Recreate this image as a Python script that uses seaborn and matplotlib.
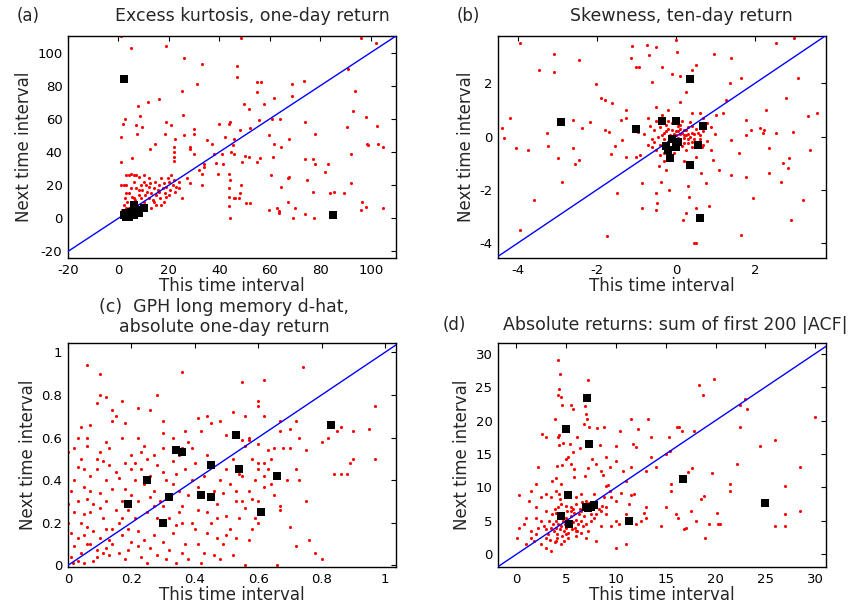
import pandas as pd
import matplotlib.pyplot as plt
import seaborn as sns

sns.set_style('white')
plt.rcParams['font.family'] = ['DejaVu Sans']
plt.rcParams['axes.unicode_minus'] = False

# (a) excess kurtosis, one-day return: (this interval, next interval)
kurt_red = [
    (1, 110), (5, 103), (19, 104), (48.6, 109), (96, 109), (102, 106), (26, 97), (33, 93),
    (47, 92), (47, 85), (31, 81), (25, 77), (16, 72), (11.6, 70), (7.7, 68), (8.6, 62),
    (2.6, 60), (1.7, 57), (7, 56), (9.3, 55), (1, 49), (7.5, 51), (1, 34), (5.3, 36.5),
    (19, 58), (21, 56), (18.5, 50.6), (22.5, 47.6), (25.6, 62.6), (26, 50), (28.5, 43),
    (29.8, 50.6), (29.8, 54), (28.5, 42), (30, 39), (14.6, 44.6), (12.6, 42), (21.9, 43),
    (21.9, 40), (22, 37), (22, 34.5), (27, 24), (28.5, 21.5), (33, 20), (33.8, 33), (35, 47),
    (37, 44.6), (37.7, 38.5), (41, 39), (38.8, 33.5), (32, 29), (33, 27), (34, 31), (40, 56.6),
    (43.7, 57), (44.4, 58), (42.4, 49), (45.7, 47.6), (48, 53), (41.5, 32.5), (43.7, 27),
    (44.4, 23), (39.3, 26.7), (44, 18), (44, 13), (45.4, 44), (44.6, 40), (45.7, 38.7),
    (43.7, 7.4), (44.4, 0), (45.7, 12), (48, 15), (46, 12.4), (47.7, 12), (48.4, 20), (49, 34),
    (50, 37.5), (49.7, 68.7), (51.7, 66), (52.3, 54.6), (50.6, 9), (52, 9), (51.6, 37),
    (55, 82), (55, 76), (55.6, 59), (56, 36.5), (55, 34), (56.3, 82), (61.6, 72.7), (57.6, 69),
    (60.9, 60), (61.6, 44.6), (61.3, 37), (60.3, 26), (59.6, 50), (59.6, 5), (63, 6),
    (63.6, 4.6), (64.5, 19), (64.5, 43), (63.5, 3), (64.2, 60), (67.5, 48), (67.5, 25), (67, 24),
    (67, 10), (68.6, 81), (68.9, 74), (70, 6), (69, 0), (73.5, 83), (74, 58), (74, 36),
    (74.6, 23), (74, 2.4), (77.7, 50.6), (77, 36), (77, 16), (77.5, 0), (78, 33), (83, 33),
    (82, 28), (84, 15), (85.4, 16), (89.4, 15.5), (91, 90), (92, 21.5), (90.7, 55), (92, 39),
    (93.6, 77), (93, 65), (98, 61), (98.7, 45), (99, 44), (96.7, 10), (98, 7), (102.6, 55.6),
    (103, 44.6), (105, 43), (105, 6), (96, 5),
    (1, 2), (1.5, 5), (2, 8), (2, 3), (2.5, 12), (3, 26), (3, 6), (3.5, 10), (4, 26), (4, 15),
    (4.5, 4), (5, 27), (5, 9), (5.5, 13), (6, 26), (6, 6), (6.5, 11), (7, 26), (7, 18), (7.5, 8),
    (8, 25), (8, 14), (8.5, 5), (9, 12), (9.5, 17), (10, 10), (10, 22), (10.5, 14), (11, 8),
    (11.5, 16), (12, 19), (12, 12), (12.5, 21), (13, 15), (13.5, 11), (14, 18), (14.5, 22),
    (15, 14), (15.5, 17), (16, 20), (16.5, 12), (17, 24), (17.5, 18), (18, 21), (18.5, 15),
    (19, 19), (19.5, 24), (20, 22), (20.5, 17), (21, 26), (21.5, 20), (22, 23), (22.5, 16),
    (18, 10), (15, 8), (13, 6), (11, 20), (9, 7), (7, 9), (5, 18), (3, 15), (2, 20), (4, 6),
    (6, 12), (8, 17), (14, 10), (16, 16), (20, 14), (23, 19), (24, 22), (25, 12), (24, 18),
    (19, 13), (17, 8), (12, 24), (10, 26), (1, 20), (3, 20), (6, 22), (9, 20),
]
kurt_black = [(2, 84), (85, 2), (2, 2), (3, 3), (4, 1), (5, 4), (6, 8), (7, 5), (8, 3),
              (10, 6), (3, 1), (6, 2), (5, 2)]

# (b) skewness, ten-day return
skew_red = [
    (-3.94, 3.5), (-3.09, 3.12), (-3.09, 2.44), (-3.47, 2.5), (-2.44, 2.87), (-4.2, 0.71),
    (-4.4, 0.31), (-4.36, -0.04), (-4.05, -0.41), (-3.73, -0.5), (-3.6, -2.37), (-3.94, -3.5),
    (-3.26, 0.12), (-3.24, -0.34), (-2.98, -0.81), (-2.88, -1.69), (-2.61, 0.62), (-2.61, -0.44),
    (-2.54, -1.04), (-2.44, -0.87), (-2.37, 0.34), (-2.16, 0.56), (-2.03, 1.97), (-1.9, 1.46),
    (-1.78, 1.37), (-1.78, 0.25), (-1.69, 0.19), (-1.61, 1.25), (-1.63, -0.66), (-1.53, -0.37),
    (-1.36, -0.12), (-1.4, 0.62), (-1.27, 0.69), (-1.27, -0.75), (-1.48, -2.12), (-1.27, 1.0),
    (-1.02, 2.62), (-0.95, 0.19), (-1.02, -0.75), (-1.12, 3.4), (-1.14, 2.94), (-0.93, 2.62),
    (-0.85, -1.75), (-0.85, -2.69), (-0.72, 3.44), (-0.68, 3.06), (-0.61, 2.06), (-0.51, 3.37),
    (-0.34, 2.62), (-0.51, -2.12), (-0.51, -2.75), (-0.47, -2.5), (-0.42, -1.12), (-0.38, -1.69),
    (-0.25, -1.25), (-0.17, -2.0), (0, 3.62), (0.02, 3.19), (-0.1, 2.37), (0.1, 2.27),
    (0.25, 1.69), (0.51, 2.69), (0.34, 2.15), (0.42, 2.5), (0.3, -1.87), (0.34, -2.25),
    (0.25, -2.87), (0.17, -3.12), (0.47, -4.0), (0.51, -2.69), (0.83, -2.62), (0.76, -1.75),
    (0.64, -1.37), (0.93, -0.87), (1.02, 0.81), (1.1, -1.25), (0.97, 3.12), (1.19, 0.87),
    (1.27, 1.37), (1.4, 2.94), (1.4, -0.12), (1.4, -1.44), (1.36, 2.02), (1.65, 2.19),
    (1.61, -0.62), (1.78, -1.5), (1.78, 0.06), (1.78, 0.62), (1.65, -3.69), (1.95, -2.31),
    (1.91, 0.25), (2.12, 0.31), (2.2, 0.12), (2.29, 1.0), (2.37, -0.44), (2.37, -1.37),
    (2.54, 3.5), (2.54, 0.12), (2.67, -1.69), (2.71, -1.0), (2.78, 1.44), (2.86, -0.81),
    (2.84, -1.19), (2.92, -3.12), (3.0, 3.69), (3.08, 2.19), (3.22, -2.37), (3.35, 0.77),
    (3.39, -0.5), (3.56, 0.87), (2.97, 0.19), (2.22, 0.25), (-1.74, -3.75), (0.51, -4.0),
    (-0.8, 0.1), (-0.7, -0.3), (-0.65, 0.4), (-0.6, -0.1), (-0.55, 0.25), (-0.5, -0.5),
    (-0.5, 0.6), (-0.45, 0.0), (-0.4, -0.3), (-0.4, 0.35), (-0.35, 0.8), (-0.3, -0.6),
    (-0.3, 0.15), (-0.25, 0.45), (-0.2, -0.2), (-0.2, 0.3), (-0.15, 0.05), (-0.1, -0.45),
    (-0.1, 0.5), (-0.05, -0.15), (0, 0.2), (0, -0.3), (0.05, 0.4), (0.1, -0.1), (0.1, 0.1),
    (0.15, -0.35), (0.2, 0.25), (0.2, -0.05), (0.25, 0.05), (0.3, -0.25), (0.3, 0.35),
    (0.35, 0.0), (0.4, -0.4), (0.4, 0.15), (0.45, -0.1), (0.5, 0.3), (0.55, -0.2), (0.6, 0.05),
    (0.65, -0.4), (0.7, 0.2), (0.8, -0.15), (0.9, 0.35), (-0.3, -0.1), (-0.1, 0.25), (0.1, 0.45),
    (0.3, 0.1), (0.5, -0.35), (-0.2, 0.6), (0, 0.05), (0.2, -0.25), (0.4, 0.4), (-0.4, -0.7),
    (-0.6, -0.4), (0.6, 0.5), (0.7, -0.3), (0.15, 0.6), (-0.05, -0.6), (0.25, -0.5), (0.35, 0.55),
    (-0.25, -0.35), (0.05, -0.05), (0.45, 0.1), (-0.15, -0.75), (0.55, 0.15), (0.2, 0.05),
    (-0.35, 0.05), (0.1, -0.2), (0.3, -0.1), (0, -0.1), (-0.1, 0.0), (0.15, 0.15), (0.25, 0.25),
    (-0.05, 0.1), (0.05, 0.2), (0.4, -0.2), (-0.25, 0.2), (0.6, -0.1), (0.1, 0.3), (-0.55, -0.2),
    (0.8, 0.5), (-0.7, 0.7), (0.2, -0.9), (-0.3, -0.9), (0.5, -0.75), (0.9, -0.5), (0.7, 0.7),
    (-0.2, 1.0), (0.4, 0.9), (0.6, 0.9), (-0.5, 1.1), (0.1, 1.3), (-0.9, -0.7), (1.0, 0.1),
]
skew_black = [(-2.9, 0.55), (-1.0, 0.3), (-0.35, 0.6), (0, 0.6), (0.35, 2.15), (0.7, 0.4),
              (0.35, -1.05), (0.6, -3.05), (-0.1, -0.1), (-0.2, -0.5), (0, -0.4),
              (-0.15, -0.8), (0.55, -0.3), (-0.25, -0.35), (0.05, -0.2)]

# (c) GPH long memory d-hat, absolute one-day return
gph_red = [
    (0.06, 0.94), (0.1, 0.9), (0.36, 0.91), (0.74, 0.93), (0.55, 0.86), (0.62, 0.87), (0.09, 0.76),
    (0.1, 0.8), (0.12, 0.79), (0.22, 0.74), (0.28, 0.8), (0.26, 0.73), (0.14, 0.73), (0.17, 0.77),
    (0.15, 0.7), (0.18, 0.67), (0.14, 0.68), (0.07, 0.66), (0.04, 0.65), (0.06, 0.6), (0.03, 0.6),
    (0.0, 0.53), (0.02, 0.55), (0.04, 0.5), (0.06, 0.56), (0.1, 0.53), (0.12, 0.58), (0.13, 0.55),
    (0.17, 0.6), (0.22, 0.6), (0.24, 0.56), (0.2, 0.52), (0.3, 0.68), (0.3, 0.62), (0.33, 0.6),
    (0.37, 0.63), (0.38, 0.58), (0.39, 0.55), (0.41, 0.69), (0.42, 0.63), (0.44, 0.7), (0.45, 0.67),
    (0.48, 0.68), (0.5, 0.61), (0.52, 0.72), (0.56, 0.7), (0.57, 0.6), (0.6, 0.57), (0.6, 0.77),
    (0.6, 0.75), (0.62, 0.7), (0.65, 0.55), (0.63, 0.54), (0.67, 0.63), (0.67, 0.68), (0.7, 0.64),
    (0.72, 0.68), (0.73, 0.6), (0.8, 0.58), (0.82, 0.66), (0.86, 0.65), (0.85, 0.63), (0.9, 0.63),
    (0.95, 0.64), (0.97, 0.75), (0.97, 0.5), (0.9, 0.5), (0.89, 0.48), (0.88, 0.43), (0.86, 0.43),
    (0.84, 0.43), (0.82, 0.6), (0.75, 0.54), (0.7, 0.55), (0.68, 0.55), (0.64, 0.5), (0.62, 0.48),
    (0.6, 0.48), (0.58, 0.5), (0.56, 0.56), (0.55, 0.59), (0.57, 0.59), (0.6, 0.45), (0.63, 0.45),
    (0.66, 0.41), (0.62, 0.42), (0.72, 0.45), (0.73, 0.4), (0.75, 0.3), (0.7, 0.18), (0.67, 0.28),
    (0.67, 0.26), (0.76, 0.12), (0.72, 0.09), (0.78, 0.06), (0.8, 0.03), (0.66, 0.0), (0.6, 0.2),
    (0.6, 0.25), (0.59, 0.22), (0.58, 0.17), (0.57, 0.12), (0.56, 0.27), (0.55, 0.3), (0.53, 0.3),
    (0.54, 0.22), (0.5, 0.23), (0.51, 0.17), (0.5, 0.14), (0.49, 0.1), (0.47, 0.13), (0.46, 0.05),
    (0.45, 0.2), (0.44, 0.15), (0.43, 0.06), (0.42, 0.01), (0.4, 0.17), (0.39, 0.2), (0.38, 0.03),
    (0.37, 0.1), (0.36, 0.28), (0.35, 0.25), (0.34, 0.19), (0.33, 0.15), (0.32, 0.07), (0.31, 0.03),
    (0.3, 0.11), (0.29, 0.2), (0.28, 0.22), (0.27, 0.14), (0.26, 0.08), (0.25, 0.01), (0.24, 0.12),
    (0.23, 0.04), (0.22, 0.16), (0.21, 0.22), (0.2, 0.11), (0.19, 0.07), (0.18, 0.03), (0.17, 0.14),
    (0.16, 0.2), (0.15, 0.26), (0.14, 0.1), (0.13, 0.05), (0.12, 0.17), (0.11, 0.22), (0.1, 0.13),
    (0.09, 0.07), (0.08, 0.02), (0.07, 0.1), (0.06, 0.18), (0.05, 0.14), (0.04, 0.06), (0.03, 0.02),
    (0.02, 0.09), (0.01, 0.15), (0.0, 0.2), (0.02, 0.25), (0.03, 0.3), (0.0, 0.29), (0.05, 0.24),
    (0.06, 0.31), (0.08, 0.29), (0.1, 0.34), (0.12, 0.4), (0.12, 0.3), (0.14, 0.36), (0.15, 0.44),
    (0.16, 0.41), (0.18, 0.36), (0.18, 0.48), (0.2, 0.33), (0.21, 0.4), (0.22, 0.3), (0.23, 0.45),
    (0.24, 0.38), (0.26, 0.42), (0.27, 0.35), (0.28, 0.47), (0.29, 0.3), (0.3, 0.44), (0.31, 0.4),
    (0.33, 0.38), (0.34, 0.43), (0.35, 0.35), (0.37, 0.45), (0.38, 0.33), (0.39, 0.4), (0.4, 0.48),
    (0.41, 0.37), (0.43, 0.42), (0.44, 0.52), (0.46, 0.35), (0.47, 0.29), (0.48, 0.4), (0.49, 0.34),
    (0.5, 0.45), (0.51, 0.38), (0.52, 0.5), (0.53, 0.35), (0.54, 0.43), (0.55, 0.42), (0.57, 0.35),
    (0.58, 0.31), (0.6, 0.3), (0.62, 0.37), (0.64, 0.38), (0.65, 0.33), (0.69, 0.4), (0.59, 0.4),
    (0.05, 0.37), (0.07, 0.35), (0.09, 0.45), (0.02, 0.4), (0.03, 0.46), (0.05, 0.45), (0.07, 0.42),
    (0.09, 0.5), (0.11, 0.49), (0.13, 0.47), (0.17, 0.3), (0.19, 0.26), (0.25, 0.25), (0.27, 0.28),
    (0.32, 0.22), (0.36, 0.2), (0.41, 0.26), (0.44, 0.25), (0.47, 0.22), (0.33, 0.49), (0.35, 0.52),
    (0.36, 0.55), (0.3, 0.55), (0.25, 0.5), (0.27, 0.52), (0.01, 0.35), (0.04, 0.2), (0.06, 0.1),
    (0.08, 0.16), (0.11, 0.06), (0.13, 0.12), (0.03, 0.13), (0.01, 0.04), (0.015, 0.01), (0.05, 0.01),
    (0.09, 0.04), (0.12, 0.08), (0.16, 0.06), (0.19, 0.17), (0.22, 0.09), (0.28, 0.05), (0.34, 0.01),
    (0.36, 0.06), (0.41, 0.1), (0.48, 0.03), (0.52, 0.05), (0.53, 0.13), (0.56, 0.0), (0.3, 0.28),
    (0.26, 0.32), (0.17, 0.22), (0.14, 0.17), (0.1, 0.27), (0.07, 0.25), (0.2, 0.45), (0.23, 0.53),
    (0.21, 0.48),
]
gph_black = [(0.19, 0.29), (0.25, 0.4), (0.3, 0.2), (0.32, 0.32), (0.34, 0.54), (0.36, 0.53),
             (0.42, 0.33), (0.45, 0.32), (0.45, 0.47), (0.53, 0.61), (0.54, 0.45), (0.61, 0.25),
             (0.66, 0.42), (0.83, 0.66)]

# (d) absolute returns: sum of first 200 |ACF|
acf_red = [
    (4.2, 29), (4.4, 27), (7.2, 26), (4.3, 24.7), (4.2, 23.8), (4.5, 23.5), (6.9, 22.2), (7, 21),
    (5.5, 22.3), (5.7, 21.7), (4.6, 22.3), (2.6, 18), (3, 17.5), (3.9, 20.3), (4.2, 17.6),
    (4.3, 17.8), (4.3, 16.4), (4.7, 16.6), (5.4, 16.5), (5, 14.3), (5.2, 14.5), (5.7, 15.3),
    (6.1, 17.6), (6.4, 15.9), (6.8, 19.5), (7.1, 20.2), (7.3, 19.1), (8.1, 18.9), (8.8, 19),
    (10.4, 18.5), (11.5, 20.3), (11.7, 16.5), (12.2, 18.7), (13.2, 20.3), (13.5, 17.5),
    (15.3, 17.5), (15.4, 15.5), (16.1, 19), (16.3, 19), (16.6, 18.4), (17.8, 18.5), (18.3, 25.3),
    (18.7, 23.8), (19.8, 26.2), (22.5, 22.3), (23, 23.2), (23.2, 21.7), (22.5, 19), (24.5, 16.2),
    (26, 17.1), (30, 20.5), (28.5, 13), (27, 10.2), (21.5, 10.5), (21.5, 9.4), (19.6, 12.1),
    (17.6, 12.9), (17.2, 12.3), (15, 15), (13, 12.5), (11, 11), (10, 16.2), (10, 14), (9.4, 13),
    (8.5, 12.5), (9, 10.2), (8.7, 11.8), (8.4, 16.4), (7.6, 14.2), (7.2, 12.9), (6.9, 11.7),
    (5.8, 11.5), (5.8, 12.8), (5.5, 13.5), (4.6, 13.4), (4.1, 13.2), (4, 11.4), (3.6, 11),
    (2.2, 13), (2, 10.5), (1.5, 9.4), (0.3, 8.8), (1.3, 8), (2.5, 8.5), (3, 9), (3.5, 8.5),
    (4, 9.5), (4.5, 10.5), (3, 6.5), (2, 7), (1, 5.5), (0.8, 4.5), (0.3, 4), (0.1, 2.5), (1, 1.5),
    (1.5, 2.5), (2, 3), (2.5, 1.5), (3, 1), (3.5, 0.5), (3, 2.5), (4, 2), (4.5, 1.5), (5, 3),
    (6, 3.5), (7, 2.5), (8, 2), (10, 1), (11, 1.6), (12, 4.5), (12.5, 5), (13, 5.5), (13, 7),
    (12.8, 6.2), (11.5, 8.8), (11.8, 9), (10.5, 9.2), (10, 8), (9.5, 8.5), (9, 7), (8.5, 6.5),
    (8, 6), (7.5, 5), (8.5, 4.3), (9.5, 4.3), (10, 5), (10.3, 4.5), (11, 6), (11.3, 7.5),
    (14.5, 4.3), (15, 7), (15.5, 9.5), (15.5, 10.5), (16, 6), (16.2, 5.5), (17, 4), (17.5, 6.5),
    (16.8, 3.8), (18, 5), (18.5, 8.3), (18.8, 8.7), (18.9, 2.5), (19.3, 4.5), (20.2, 6.2),
    (20.3, 4.6), (20.5, 4.6), (22.2, 13.5), (26, 4.3), (27, 4.3), (27, 6), (28.5, 6.5),
    (13.5, 14.5), (14, 13), (12, 16), (11.5, 13), (10.7, 12.5), (9, 14.5), (8, 13.5), (6.5, 9),
    (7, 8), (6, 7.5), (5.5, 6.5), (6.5, 6.5), (7.3, 7.6), (7.8, 9), (9.2, 10.4), (9.4, 9.5),
    (8.8, 8.5),
    (3.5, 4), (3.7, 4.5), (3.8, 3.5), (4, 5), (4, 4), (4.1, 3), (4.2, 4.6), (4.3, 5.5), (4.4, 3.8),
    (4.5, 4.2), (4.6, 6), (4.7, 5), (4.8, 3.5), (4.9, 4.5), (5, 5.5), (5, 4), (5.1, 6.5), (5.2, 3.2),
    (5.3, 5), (5.4, 4.3), (5.5, 5.8), (5.6, 3.8), (5.7, 4.8), (5.8, 6.2), (5.9, 4), (6, 5.2),
    (6.1, 3.5), (6.2, 4.6), (6.3, 6), (6.5, 5), (6.7, 4.2), (6.8, 5.8), (7, 4.6), (3.2, 3),
    (3, 3.8), (3.3, 5), (2.8, 4.2), (3.6, 6), (3.9, 6.8), (4.2, 7), (4.5, 7.5), (5, 7.2), (5.5, 7),
    (4.1, 2.5), (4.6, 2.8), (5.2, 2.4), (3.4, 2.2), (3.9, 1.8), (4.8, 2), (6, 2.8), (6.5, 3.2),
    (7.2, 3.5), (7.5, 6), (7.8, 5.5), (8, 7.5), (8.3, 6.8), (8.6, 7.2), (9, 6), (6.6, 7.8),
    (6, 8.5), (4.4, 8.2), (4.3, 9), (4, 6.2), (5.7, 6.8), (6.4, 6.8), (2.5, 5), (2, 5.5), (2.2, 4),
    (1.5, 3.5), (1.8, 2),
]
acf_black = [(4.5, 5.7), (5.2, 8.9), (5.3, 4.5), (5, 18.8), (7.1, 23.3), (7.3, 16.5), (7, 7),
             (7.5, 7), (7.8, 7.3), (11.3, 5), (16.7, 11.2), (25, 7.7), (7.2, 6.9)]

panels = [
    dict(red=kurt_red, black=kurt_black, xlim=(-20, 110), ylim=(-24, 110),
         ticks=[-20, 0, 20, 40, 60, 80, 100], labels=None, diag=[-30, 120]),
    dict(red=skew_red, black=skew_black, xlim=(-4.5, 3.8), ylim=(-4.56, 3.78),
         ticks=[-4, -2, 0, 2], labels=None, diag=[-5, 4]),
    dict(red=gph_red, black=gph_black, xlim=(0, 1.035), ylim=(-0.008, 1.044),
         ticks=[0, 0.2, 0.4, 0.6, 0.8, 1], labels=['0', '0.2', '0.4', '0.6', '0.8', '1'],
         diag=[-0.1, 1.1]),
    dict(red=acf_red, black=acf_black, xlim=(-1.85, 31.1), ylim=(-1.9, 31.6),
         ticks=[0, 5, 10, 15, 20, 25, 30], labels=None, diag=[-3, 33]),
]

W, H = 856, 607
fig = plt.figure(figsize=(W / 100, H / 100), dpi=100)
boxes = [(68, 36, 396, 258), (498, 36, 826, 258), (68, 343, 396, 567), (498, 343, 826, 567)]

for p, (l, t, r, b) in zip(panels, boxes):
    ax = fig.add_axes([l / W, 1 - b / H, (r - l) / W, (b - t) / H])
    red = pd.DataFrame(p['red'], columns=['this', 'next'])
    black = pd.DataFrame(p['black'], columns=['this', 'next'])
    sns.scatterplot(data=red, x='this', y='next', color='#ff0000', s=5, linewidth=0,
                    marker='o', ax=ax, zorder=2)
    sns.lineplot(x=p['diag'], y=p['diag'], color='#0000ff', linewidth=1, ax=ax, zorder=3)
    sns.scatterplot(data=black, x='this', y='next', color='black', s=28, linewidth=0,
                    marker='s', ax=ax, zorder=4)
    ax.set_xlim(*p['xlim'])
    ax.set_ylim(*p['ylim'])
    ax.set_xticks(p['ticks'])
    ax.set_yticks(p['ticks'])
    if p['labels']:
        ax.set_xticklabels(p['labels'])
        ax.set_yticklabels(p['labels'])
    ax.tick_params(direction='in', top=True, right=True, length=3.5, width=0.8,
                   labelsize=9.5, pad=4, colors='black')
    for s in ax.spines.values():
        s.set_color('black')
        s.set_linewidth(1)
    ax.set_xlabel('This time interval', fontsize=12, labelpad=0)
    ax.set_ylabel('Next time interval', fontsize=12, labelpad=3)

fig.text(17 / W, 1 - 16 / H, '(a)', fontsize=12, va='center', ha='left')
fig.text(252 / W, 1 - 16 / H, 'Excess kurtosis, one-day return', fontsize=12.5, va='center', ha='center')
fig.text(457 / W, 1 - 16 / H, '(b)', fontsize=12, va='center', ha='left')
fig.text(681 / W, 1 - 16 / H, 'Skewness, ten-day return', fontsize=12.5, va='center', ha='center')
fig.text(224 / W, 1 - 317 / H, '(c)  GPH long memory d-hat,\nabsolute one-day return',
         fontsize=12.5, va='center', ha='center', linespacing=1.1)
fig.text(443 / W, 1 - 325 / H, '(d)', fontsize=12, va='center', ha='left')
fig.text(675 / W, 1 - 325 / H, 'Absolute returns: sum of first 200 |ACF|', fontsize=12.5,
         va='center', ha='center')

plt.savefig('out.png', dpi=100)
plt.close()
